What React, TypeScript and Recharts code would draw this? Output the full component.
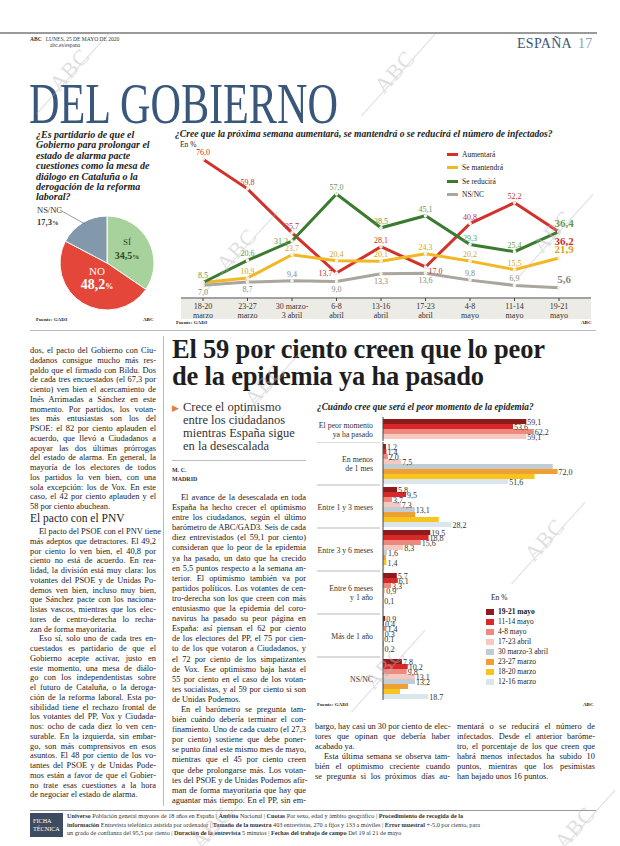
import { PieChart, Pie, Cell, LineChart, Line, XAxis, YAxis, LabelList, BarChart, Bar } from "recharts"

const SERIF = '"Liberation Serif", "Times New Roman", serif'
const BLUE = "#38577b"

// pie
const pieNames = ["SÍ", "NO", "NS/NC"]
const pieValues = [34.5, 48.2, 17.3]
const PIE_COLORS = ["#a8d29c", "#e5463a", "#8199ab"]

// line chart
const weekTop = ["18-20", "23-27", "30 marzo-", "6-8", "13-16", "17-23", "4-8", "11-14", "19-21"]
const weekBottom = ["marzo", "marzo", "3 abril", "abril", "abril", "abril", "mayo", "mayo", "mayo"]
const aumentara = [76.0, 59.8, 35.7, 13.7, 28.1, 17.0, 40.8, 52.2, 36.2]
const mantendra = [8.5, 10.9, 23.7, 20.4, 20.1, 24.3, 20.2, 15.5, 21.9]
const reducira = [8.5, 20.6, 31.2, 57.0, 38.5, 45.1, 29.3, 25.4, 36.4]
const nsnc = [7.0, 8.7, 9.4, 9.0, 13.3, 13.6, 9.8, 6.9, 5.6]

// bar chart
const periodos = ["19-21 mayo", "11-14 mayo", "4-8 mayo", "17-23 abril", "30 marzo-3 abril", "23-27 marzo", "18-20 marzo", "12-16 marzo"]
const momentos = [
  ["El peor momento", "ya ha pasado"],
  ["En menos", "de 1 mes"],
  ["Entre 1 y 3 meses"],
  ["Entre 3 y 6 meses"],
  ["Entre 6 meses", "y 1 año"],
  ["Más de 1 año"],
  ["NS/NC"],
]
const may19_21 = [59.1, 1.2, 5.8, 19.5, 5.7, 0.9, 7.8]
const may11_14 = [53.6, 1.4, 9.5, 18.8, 6.1, 0.4, 10.2]
const may4_8 = [62.2, 2.0, 3.7, 15.6, 3.3, 1.4, 9.8]
const abr17_23 = [59.1, 7.5, 7.3, 8.3, 0.9, 0.3, 13.1]
const mar30_abr3 = [null, 70.0, 13.1, 1.6, 0.5, 0.1, 13.2]
const mar23_27 = [null, 72.0, 13.3, 1.2, 0.1, 0.3, 10.3]
const mar18_20 = [null, 62.5, 23.0, 1.4, 0.2, 0.2, 7.0]
const mar12_16 = [null, 51.6, 28.2, 0.6, 0.1, 0.2, 18.7]
const BAR_SERIES = [may19_21, may11_14, may4_8, abr17_23, mar30_abr3, mar23_27, mar18_20, mar12_16]
const BAR_COLORS = ["#8e1b1b", "#d8282a", "#ec8a80", "#f5c8c0", "#c2ccd5", "#efa032", "#f7c51e", "#dbe5ed"]
// bars whose value is not printed in the original, by category index
const UNLABELLED: Record<number, number[]> = { 1: [4, 6], 2: [5, 6], 3: [5, 7], 4: [4, 6, 7], 5: [5, 7], 6: [5, 6] }

const fmt = (v: any) => (v == null ? "" : Number(v).toFixed(1).replace(".", ","))

const pieData = pieNames.map((name, i) => ({ name, value: pieValues[i] }))
const lineData = weekTop.map((w, i) => ({
  week: i,
  aumentara: aumentara[i],
  mantendra: mantendra[i],
  reducira: reducira[i],
  nsnc: nsnc[i],
}))
const barRows = momentos.map((m, i) => {
  const row: any = { cat: m.join("|") }
  BAR_SERIES.forEach((s, k) => (row["s" + k] = s[i]))
  return row
})

const LINES = [
  { key: "aumentara", name: "Aumentará", color: "#d3322b", text: "#c4302a" },
  { key: "mantendra", name: "Se mantendrá", color: "#f2b824", text: "#d9a420" },
  { key: "reducira", name: "Se reducirá", color: "#3a7b2f", text: "#5c9c4c" },
  { key: "nsnc", name: "NS/NC", color: "#aaa69d", text: "#8a867e" },
]
// where each point's value sits relative to the dot
const SPOTS: Record<string, Record<number, string>> = {
  aumentara: { 3: "left", 5: "right", 8: "lastBelow" },
  mantendra: { 0: "none", 8: "last" },
  reducira: { 2: "left", 8: "last" },
  nsnc: { 0: "below", 1: "below", 3: "below", 4: "below", 5: "below", 8: "last" },
}

const lineLabel = (key: string, color: string) => (p: any) => {
  const spot = SPOTS[key][p.index] || "above"
  if (spot === "none") return null
  let dx = 0, dy = -4, anchor = "middle", size = 8
  if (spot === "below") dy = 10
  if (spot === "left") { dx = -4; dy = 3; anchor = "end" }
  if (spot === "right") { dx = 3; dy = 7; anchor = "start" }
  if (spot === "last") { dx = 5; dy = -5; size = 11 }
  if (spot === "lastBelow") { dx = 5; dy = 13; size = 11 }
  return (
    <text x={p.x + dx} y={p.y + dy} textAnchor={anchor} fontFamily={SERIF} fontSize={size} fontWeight={size > 8 ? 700 : 400} fill={color}>
      {fmt(p.value)}
    </text>
  )
}

const barLabel = (k: number, catOffset: number) => (p: any) => {
  if (p.value == null) return null
  if ((UNLABELLED[p.index + catOffset] || []).includes(k)) return null
  return (
    <text x={p.x + p.width + 1} y={p.y + p.height / 2 + 3} fontFamily={SERIF} fontSize={8} fill="#333">
      {fmt(p.value)}
    </text>
  )
}

const WeekTick = ({ x, y, index }: any) => (
  <text x={x} y={y + 6} textAnchor="middle" fontFamily={SERIF} fontSize={8} fill="#333">
    <tspan x={x}>{weekTop[index]}</tspan>
    <tspan x={x} dy={9}>{weekBottom[index]}</tspan>
  </text>
)

const CatTick = ({ x, y, payload, band }: any) => {
  const lines = String(payload.value).split("|")
  return (
    <g>
      <line x1={2} x2={x + 5} y1={y - band / 2} y2={y - band / 2} stroke="#cfcfcf" strokeWidth={1.5} />
      <text x={x - 2} y={y + 3 - (lines.length - 1) * 4.5} textAnchor="end" fontFamily={SERIF} fontSize={7.8} fill="#333">
        {lines.map((l, i) => (
          <tspan key={i} x={x - 2} dy={i ? 9 : 0}>{l}</tspan>
        ))}
      </text>
    </g>
  )
}

const abs = (left: number, top: number, extra: any = {}) => ({ position: "absolute" as const, left, top, ...extra })

// body text, one entry per printed line
const col1 = [
  ["dos, el pacto del Gobierno con Ciu-", "dadanos consigue mucho más res-", "paldo que el firmado con Bildu. Dos", "de cada tres encuestados (el 67,3 por", "ciento) ven bien el acercamiento de", "Inés Arrimadas a Sánchez en este", "momento. Por partidos, los votan-", "tes más entusiastas son los del", "PSOE: el 82 por ciento aplauden el", "acuerdo, que llevó a Ciudadanos a", "apoyar las dos últimas prórrogas", "del estado de alarma. En general, la", "mayoría de los electores de todos", "los partidos lo ven bien, con una", "sola excepción: los de Vox. En este", "caso, el 42 por ciento aplauden y el", "58 por ciento abuchean."],
]
const col1b = [
  ["El pacto del PSOE con el PNV tiene", "más adeptos que detractores. El 49,2", "por ciento lo ven bien, el 40,8 por", "ciento no está de acuerdo. En rea-", "lidad, la división está muy clara: los", "votantes del PSOE y de Unidas Po-", "demos ven bien, incluso muy bien,", "que Sánchez pacte con los naciona-", "listas vascos, mientras que los elec-", "tores de centro-derecha lo recha-", "zan de forma mayoritaria."],
  ["Eso sí, solo uno de cada tres en-", "cuestados es partidario de que el", "Gobierno acepte activar, justo en", "este momento, una mesa de diálo-", "go con los independentistas sobre", "el futuro de Cataluña, o la deroga-", "ción de la reforma laboral. Esta po-", "sibilidad tiene el rechazo frontal de", "los votantes del PP, Vox y Ciudada-", "nos: ocho de cada diez lo ven cen-", "surable. En la izquierda, sin embar-", "go, son más comprensivos en esos", "asuntos. El 48 por ciento de los vo-", "tantes del PSOE y de Unidas Pode-", "mos están a favor de que el Gobier-", "no trate esas cuestiones a la hora", "de negociar el estado de alarma."],
]
const col2 = [
  ["El avance de la desescalada en toda", "España ha hecho crecer el optimismo", "entre los ciudadanos, según el último", "barómetro de ABC/GAD3. Seis de cada", "diez entrevistados (el 59,1 por ciento)", "consideran que lo peor de la epidemia", "ya ha pasado, un dato que ha crecido", "en 5,5 puntos respecto a la semana an-", "terior. El optimismo también va por", "partidos políticos. Los votantes de cen-", "tro-derecha son los que creen con más", "entusiasmo que la epidemia del coro-", "navirus ha pasado su peor página en", "España: así piensan el 62 por ciento", "de los electores del PP, el 75 por cien-", "to de los que votaron a Ciudadanos, y", "el 72 por ciento de los simpatizantes", "de Vox. Ese optimismo baja hasta el", "55 por ciento en el caso de los votan-", "tes socialistas, y al 59 por ciento si son", "de Unidas Podemos."],
  ["En el barómetro se pregunta tam-", "bién cuándo debería terminar el con-", "finamiento. Uno de cada cuatro (el 27,3", "por ciento) sostiene que debe poner-", "se punto final este mismo mes de mayo,", "mientras que el 45 por ciento creen", "que debe prolongarse más. Los votan-", "tes del PSOE y de Unidas Podemos afir-", "man de forma mayoritaria que hay que", "aguantar más tiempo. En el PP, sin em-"],
]
const col3 = [
  ["bargo, hay casi un 30 por ciento de elec-", "tores que opinan que debería haber", "acabado ya."],
  ["Esta última semana se observa tam-", "bién el optimismo creciente cuando", "se pregunta si los próximos días au-"],
]
const col4 = [
  ["mentará o se reducirá el número de", "infectados. Desde el anterior baróme-", "tro, el porcentaje de los que creen que", "habrá menos infectados ha subido 10", "puntos, mientras que los pesimistas", "han bajado unos 16 puntos."],
]

// technical sheet, as [bold, plain] pieces per printed line
const ficha = [
  [["Universo", " Población general mayores de 18 años en España | "], ["Ámbito", " Nacional | "], ["Cuotas", " Por sexo, edad y ámbito geográfico | "], ["Procedimiento de recogida de la", ""]],
  [["información", " Entrevista telefónica asistida por ordenador | "], ["Tamaño de la muestra", "  403 entrevistas, 270 a fijos y 133 a móviles | "], ["Error muestral", " +-5,0 por ciento, para"]],
  [["", "un grado de confianza del 95,5 por ciento | "], ["Duración de la entrevista", " 5 minutos  | "], ["Fechas del trabajo de campo", " Del 19 al 21 de mayo"]],
]

function Column({ paras, left, top, width, lh = 10.1, continued = true }: any) {
  return (
    <div style={abs(left, top, { width, fontFamily: SERIF, fontSize: 8.4, lineHeight: lh + "px", color: "#222" })}>
      {paras.map((lines: string[], p: number) =>
        lines.map((l, i) => {
          const last = i === lines.length - 1 && !(p === paras.length - 1 && l.endsWith("-"))
          const indent = i === 0 && (p > 0 || !continued) ? 9 : 0
          return (
            <div key={p + "-" + i} style={{ whiteSpace: "nowrap", height: lh, paddingLeft: indent, textAlign: last ? "left" : "justify", textAlignLast: last ? "left" : "justify" }}>
              {l}
            </div>
          )
        })
      )}
    </div>
  )
}

// faint diagonal ABC marks printed over the page
const MARKS = [
  [70, 70], [395, 72], [237, 250], [553, 232], [265, 385], [545, 540], [385, 668], [212, 828], [575, 828],
]
function Watermark({ x, y }: { x: number; y: number }) {
  return (
    <div style={abs(x - 40, y - 12, { width: 80, height: 24, transform: "rotate(-48deg)", pointerEvents: "none", opacity: 0.45 })}>
      <div style={{ fontSize: 22, color: "#b9b9b9", textAlign: "center", lineHeight: "24px", letterSpacing: 1 }}>ABC</div>
      <div style={abs(-15, 16, { width: 110, height: 1, background: "#b9b9b9" })} />
    </div>
  )
}

export default function App() {
  const band2 = 258 / 6
  return (
    <div style={{ position: "absolute", left: 0, top: 0, width: 620, height: 846, background: "#fff", overflow: "hidden", fontFamily: SERIF, color: "#222" }}>
      {/* header */}
      <div style={abs(0, 32, { width: 597, height: 1.5, background: "#9a9a9a" })} />
      <div style={abs(30, 36, { fontSize: 5.5, lineHeight: "6px", color: "#333" })}>
        <b>ABC</b>&nbsp;&nbsp; LUNES, 25 DE MAYO DE 2020
        <div style={{ paddingLeft: 20 }}>abc.es/espana</div>
      </div>
      <div style={abs(517, 36, { fontSize: 14, color: BLUE, letterSpacing: 0.3 })}>
        ESPAÑA <span style={{ color: "#8aa0b8", marginLeft: 3 }}>17</span>
      </div>
      <div style={abs(29, 74, { fontSize: 57, color: BLUE, transform: "scaleX(0.74)", transformOrigin: "left top", whiteSpace: "nowrap", lineHeight: "60px" })}>
        DEL GOBIERNO
      </div>

      {/* pie */}
      <div style={abs(36, 130, { width: 120, fontSize: 10, lineHeight: "10.4px", fontWeight: 700, fontStyle: "italic", color: "#222" })}>
        ¿Es partidario de que el Gobierno para prolongar el estado de alarma pacte cuestiones como la mesa de diálogo en Cataluña o la derogación de la reforma laboral?
      </div>
      <div style={abs(40, 203)}>
        <PieChart width={125} height={112}>
          <Pie data={pieData} dataKey="value" cx={62} cy={55} outerRadius={47} startAngle={90} endAngle={-270} stroke="#fff" strokeWidth={1} isAnimationActive={false}>
            {pieData.map((d, i) => (
              <Cell key={d.name} fill={PIE_COLORS[i]} />
            ))}
          </Pie>
        </PieChart>
      </div>
      <svg style={abs(30, 200)} width={130} height={110}>
        <line x1={30} y1={10} x2={55} y2={24} stroke="#555" strokeWidth={0.6} />
      </svg>
      <div style={abs(37, 204, { fontSize: 8.5, lineHeight: "12px", color: "#333" })}>
        NS/NC
        <div style={{ fontWeight: 700 }}>17,3<span style={{ fontSize: 6.5 }}>%</span></div>
      </div>
      <div style={abs(112, 236, { fontSize: 9, lineHeight: "13px", color: "#2f4a2b", textAlign: "center", width: 30 })}>
        SÍ
        <div style={{ fontWeight: 700, fontSize: 10 }}>34,5<span style={{ fontSize: 7 }}>%</span></div>
      </div>
      <div style={abs(74, 264, { fontSize: 11, lineHeight: "14px", color: "#fff", textAlign: "center", width: 46 })}>
        NO
        <div style={{ fontWeight: 700, fontSize: 14 }}>48,2<span style={{ fontSize: 8 }}>%</span></div>
      </div>
      <div style={abs(36, 317, { fontSize: 5, fontWeight: 700 })}>Fuente: GAD3</div>
      <div style={abs(143, 317, { fontSize: 5, fontWeight: 700 })}>ABC</div>

      {/* line chart */}
      <div style={abs(175, 128, { fontSize: 9.6, fontWeight: 700, fontStyle: "italic", whiteSpace: "nowrap" })}>
        ¿Cree que la próxima semana aumentará, se mantendrá o se reducirá el número de infectados?
      </div>
      <div style={abs(180, 140, { fontSize: 7.5 })}>En %</div>
      <div style={abs(181, 299, { width: 410, height: 20, background: "#ecebe6" })} />
      <div style={abs(172, 145)}>
        <LineChart width={419} height={175} data={lineData} margin={{ top: 7, right: 0, left: 9, bottom: 0 }}>
          <XAxis dataKey="week" type="category" height={22} padding={{ left: 22, right: 32 }} tick={<WeekTick />} tickSize={3} stroke="#444" interval={0} />
          <YAxis hide domain={[0, 80]} />
          {LINES.map((l) => (
            <Line key={l.key} dataKey={l.key} stroke={l.color} strokeWidth={3} dot={{ r: 1.8, fill: "#f4f1e8", stroke: "none" }} isAnimationActive={false}>
              <LabelList dataKey={l.key} content={lineLabel(l.key, l.text)} />
            </Line>
          ))}
        </LineChart>
      </div>
      <div style={abs(447, 148, { fontSize: 7.5, lineHeight: "13.3px" })}>
        {LINES.map((l) => (
          <div key={l.key} style={{ display: "flex", alignItems: "center", height: 13.3 }}>
            <span style={{ width: 11, height: 3, background: l.color, marginRight: 4 }} />
            {l.name}
          </div>
        ))}
      </div>
      <div style={abs(176, 320, { fontSize: 5, fontWeight: 700 })}>Fuente: GAD3</div>
      <div style={abs(581, 320, { fontSize: 5, fontWeight: 700 })}>ABC</div>

      <div style={abs(30, 330, { width: 566, height: 1, background: "#bbb" })} />
      <div style={abs(163, 336, { width: 1, height: 470, background: "#bbb" })} />

      {/* headline */}
      <div style={abs(172, 336, { fontSize: 26.5, fontWeight: 700, lineHeight: "27px", color: "#1e1e1e", whiteSpace: "nowrap", letterSpacing: -0.2 })}>
        El 59 por ciento creen que lo peor
        <br />
        de la epidemia ya ha pasado
      </div>
      <div style={abs(172, 401, { fontSize: 12.5, lineHeight: "13px", color: "#333", width: 140 })}>
        <span style={abs(0, 1, { color: "#e2813b", fontSize: 9 })}>▶</span>
        <div style={{ paddingLeft: 11 }}>
          Crece el optimismo
          <br />
          entre los ciudadanos
          <br />
          mientras España sigue
          <br />
          en la desescalada
        </div>
      </div>
      <div style={abs(172, 460, { width: 134, height: 1, background: "#bbb" })} />
      <div style={abs(172, 466, { fontSize: 6, lineHeight: "9px", fontWeight: 700, color: "#333" })}>
        M. C.
        <br />
        MADRID
      </div>

      <Column paras={col1} left={30} top={346} width={126} lh={9.75} />
      <div style={abs(30, 512, { fontSize: 11.5, color: "#222" })}>El pacto con el PNV</div>
      <Column paras={col1b} left={30} top={527} width={126} lh={9.75} continued={false} />
      <Column paras={col2} left={172} top={493} width={134} continued={false} />
      <Column paras={col3} left={315} top={722} width={135} />
      <Column paras={col4} left={457} top={722} width={138} />

      {/* bar chart */}
      <div style={abs(317, 402, { fontSize: 9.3, fontWeight: 700, fontStyle: "italic", whiteSpace: "nowrap" })}>
        ¿Cuándo cree que será el peor momento de la epidemia?
      </div>
      <div style={abs(315, 417)}>
        <BarChart width={285} height={24} data={barRows.slice(0, 1)} layout="vertical" margin={{ top: 0, right: 23, left: 0, bottom: 0 }} barGap={0} barCategoryGap={2}>
          <XAxis type="number" domain={[0, 80]} hide />
          <YAxis type="category" dataKey="cat" width={68} tick={<CatTick band={100} />} tickLine={false} stroke="#444" />
          {BAR_SERIES.slice(0, 4).map((s, k) => (
            <Bar key={k} dataKey={"s" + k} fill={BAR_COLORS[k]} isAnimationActive={false}>
              <LabelList dataKey={"s" + k} content={barLabel(k, 0)} />
            </Bar>
          ))}
        </BarChart>
      </div>
      <div style={abs(315, 442)}>
        <BarChart width={285} height={258} data={barRows.slice(1)} layout="vertical" margin={{ top: 0, right: 23, left: 0, bottom: 0 }} barGap={0} barCategoryGap={2}>
          <XAxis type="number" domain={[0, 80]} hide />
          <YAxis type="category" dataKey="cat" width={68} tick={<CatTick band={band2} />} tickLine={false} stroke="#444" interval={0} />
          {BAR_SERIES.map((s, k) => (
            <Bar key={k} dataKey={"s" + k} fill={BAR_COLORS[k]} isAnimationActive={false}>
              <LabelList dataKey={"s" + k} content={barLabel(k, 1)} />
            </Bar>
          ))}
        </BarChart>
      </div>
      <div style={abs(486, 593, { fontSize: 7.5, lineHeight: "10px" })}>
        <div style={{ paddingLeft: 5, marginBottom: 4 }}>En %</div>
        {periodos.map((p, k) => (
          <div key={p} style={{ display: "flex", alignItems: "center", height: 10, fontWeight: k === 0 ? 700 : 400 }}>
            <span style={{ width: 8, height: 6, background: BAR_COLORS[k], marginRight: 4 }} />
            {p}
          </div>
        ))}
      </div>
      <div style={abs(317, 702, { fontSize: 5, fontWeight: 700 })}>Fuente: GAD3</div>
      <div style={abs(583, 702, { fontSize: 5, fontWeight: 700 })}>ABC</div>

      {/* ficha tecnica */}
      <div style={abs(30, 810, { width: 566, height: 1, background: "#999" })} />
      <div style={abs(30, 813, { width: 33, height: 24, background: "#3d4c60", color: "#fff", fontSize: 6.2, lineHeight: "8px", padding: "4px 0 0 3px", boxSizing: "border-box" })}>
        FICHA
        <br />
        TÉCNICA
      </div>
      <div style={abs(67, 812, { width: 528, fontSize: 6.2, lineHeight: "8.6px", color: "#333" })}>
        {ficha.map((line, i) => (
          <div key={i} style={{ whiteSpace: "nowrap", height: 8.6 }}>
            {line.map(([b, t], j) => (
              <span key={j}>
                {b && <b>{b}</b>}
                {t}
              </span>
            ))}
          </div>
        ))}
      </div>

      {MARKS.map(([x, y], i) => (
        <Watermark key={i} x={x} y={y} />
      ))}
    </div>
  )
}
